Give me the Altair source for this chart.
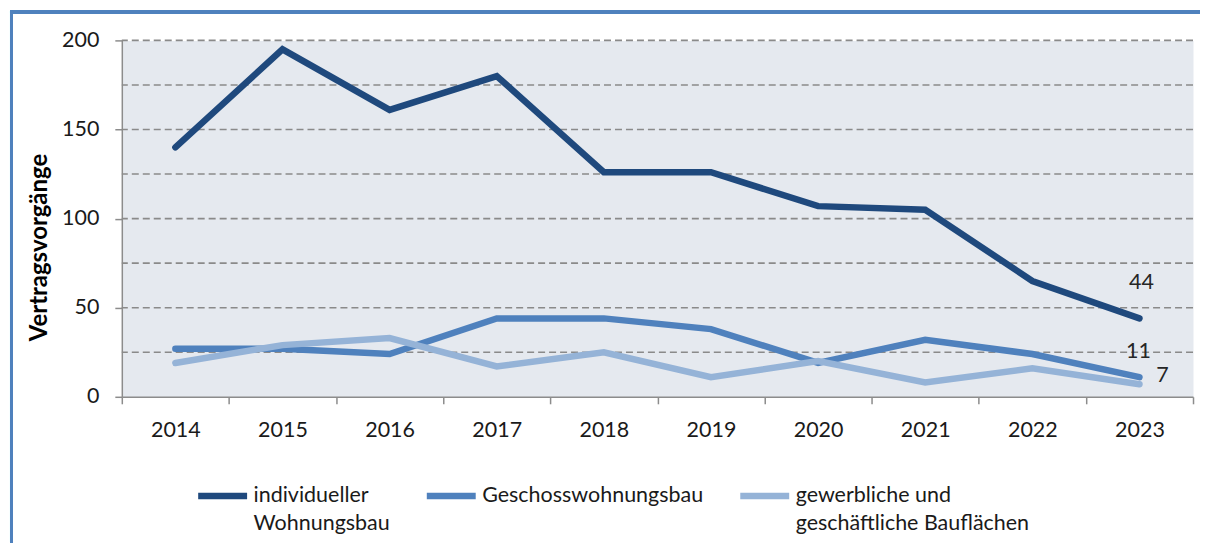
import altair as alt
import pandas as pd

years = [2014, 2015, 2016, 2017, 2018, 2019, 2020, 2021, 2022, 2023]
individuell = [140, 195, 161, 180, 126, 126, 107, 105, 65, 44]
geschoss = [27, 27, 24, 44, 44, 38, 19, 32, 24, 11]
gewerbe = [19, 29, 33, 17, 25, 11, 20, 8, 16, 7]

series_names = [
    "individueller Wohnungsbau",
    "Geschosswohnungsbau",
    "gewerbliche und geschäftliche Bauflächen",
]
series_colors = ["#1f497d", "#4f81bd", "#95b3d7"]
grid_values = [25, 50, 75, 100, 125, 150, 175, 200]
y_tick_values = [0, 50, 100, 150, 200]

rows = []
for name, vals in zip(series_names, [individuell, geschoss, gewerbe]):
    for i, (yr, v) in enumerate(zip(years, vals)):
        rows.append({"Jahr": str(yr), "Serie": name, "Wert": v, "order": i})
df = pd.DataFrame(rows)
grid_df = pd.DataFrame({"g": grid_values})

FONT = "Lato"
FS = 21.5
W, H = 1073, 357

x_scale = alt.Scale(type="band", paddingInner=0, paddingOuter=0)
x_enc = alt.X(
    "Jahr:O",
    scale=x_scale,
    axis=alt.Axis(
        title=None, labelAngle=0, tickBand="extent", tickSize=7,
        labelPadding=16, labelFontSize=FS, labelFont=FONT, labelColor="#1a1a1a",
        domainColor="#8c8c8c", domainWidth=1.5, tickColor="#8c8c8c", tickWidth=1.5,
        grid=False,
    ),
)
y_scale = alt.Scale(domain=[0, 200], nice=False)
y_axis = alt.Axis(
    values=y_tick_values, grid=False, tickSize=7, labelPadding=16,
    labelFontSize=FS, labelFont=FONT, labelColor="#1a1a1a",
    domainColor="#8c8c8c", domainWidth=1.5, tickColor="#8c8c8c", tickWidth=1.5,
    title="Vertragsvorgänge", titleFont=FONT, titleFontSize=24,
    titleFontWeight="bold", titleColor="#000000", titlePadding=10,
    titleY=207, titleAlign="center",
)

grid = alt.Chart(grid_df).mark_rule(
    color="#8a8a8a", strokeWidth=1.6, strokeDash=[7, 4]
).encode(y=alt.Y("g:Q", scale=y_scale, axis=y_axis, title="Vertragsvorgänge"))

lines = alt.Chart(df).mark_line(strokeWidth=6.5, strokeCap="round").encode(
    x=x_enc,
    y=alt.Y("Wert:Q", scale=y_scale, axis=y_axis, title="Vertragsvorgänge"),
    color=alt.Color(
        "Serie:N",
        scale=alt.Scale(domain=series_names, range=series_colors),
        sort=series_names,
        legend=alt.Legend(
            title=None, orient="none", direction="horizontal",
            legendX=73, legendY=428, columns=3, columnPadding=23,
            symbolType="stroke", symbolSize=2401, symbolStrokeWidth=6.5,
            labelFont=FONT, labelFontSize=FS, labelColor="#1a1a1a",
            labelOffset=3, labelLimit=500, labelBaseline="middle",
            labelExpr=(
                "datum.label == 'individueller Wohnungsbau' ? ['individueller', 'Wohnungsbau'] : "
                "datum.label == 'gewerbliche und geschäftliche Bauflächen' ? "
                "['gewerbliche und', 'geschäftliche Bauflächen'] : [datum.label, '']"
            ),
        ),
    ),
    order="order:Q",
)

def end_label(name, dx, dy):
    return alt.Chart(df).transform_filter(
        (alt.datum.Serie == name) & (alt.datum.Jahr == "2023")
    ).mark_text(
        font=FONT, fontSize=FS, color="#262626", dx=dx, dy=dy, baseline="middle"
    ).encode(x=alt.X("Jahr:O", scale=x_scale),
             y=alt.Y("Wert:Q", scale=y_scale), text="Wert:Q")

lab1 = end_label(series_names[0], 2, -35)
lab2 = end_label(series_names[1], -1, -25)
lab3 = end_label(series_names[2], 23, -8)

border_top = alt.Chart(grid_df).mark_rule(color="#4f81bd", strokeWidth=3).encode(
    x=alt.value(-112), x2=alt.value(1080), y=alt.value(-28.5)
)
border_left = alt.Chart(grid_df).mark_rule(color="#4f81bd", strokeWidth=3).encode(
    x=alt.value(-110.5), y=alt.value(-30), y2=alt.value(503)
)

chart = alt.layer(grid, lines, lab1, lab2, lab3, border_top, border_left).properties(
    width=W, height=H, padding=0, background="white"
).configure(
    style={"guide-label": {"lineHeight": 28}}
).configure_view(fill="#e5e9ef", stroke="transparent")

chart.save("out.html", embed_options={"renderer": "svg", "actions": False})
